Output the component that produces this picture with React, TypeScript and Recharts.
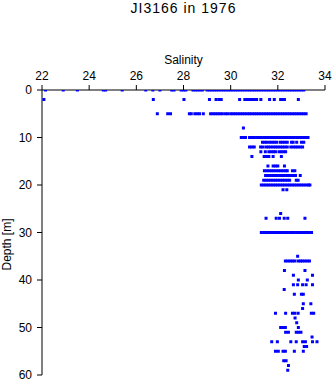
import React from 'react';
import { ScatterChart, Scatter, XAxis, YAxis, Label } from 'recharts';

const TITLE = 'JI3166 in 1976';
const X_LABEL = 'Salinity';
const Y_LABEL = 'Depth [m]';
const X_TICKS = [22, 24, 26, 28, 30, 32, 34];
const Y_TICKS = [0, 10, 20, 30, 40, 50, 60];

// salinity readings per depth level [m]
const sal0 = [22.15, 22.9, 23.5, 24.6, 24.7, 25.4, 26.4, 26.7, 27.0, 27.5, 27.6, 27.9, 28.0, 28.1, 28.4, 28.5, 28.6, 28.7, 28.8, 29.0, 29.1, 29.2, 29.3, 29.4, 29.5, 29.6, 29.7, 29.8, 29.9, 30.0, 30.1, 30.2, 30.3, 30.4, 30.5, 30.6, 30.7, 30.8, 30.9, 31.0, 31.1, 31.2, 31.3, 31.4, 31.5, 31.6, 31.7, 31.8, 31.9, 32.0, 32.1, 32.2, 32.3, 32.4, 32.5, 32.6, 32.7, 32.8, 32.9, 33.0, 33.1];
const sal2 = [22.08, 26.72, 28.02, 29.1, 29.38, 29.5, 29.6, 30.38, 30.6, 30.7, 30.8, 30.9, 31.0, 31.1, 31.28, 31.65, 31.85, 32.12, 32.2, 32.28, 32.87];
const sal5 = [26.89, 27.33, 27.45, 28.25, 28.33, 28.48, 28.58, 28.68, 28.84, 29.15, 29.25, 29.35, 29.45, 29.55, 29.65, 29.78, 29.88, 30.0, 30.1, 30.2, 30.3, 30.4, 30.5, 30.6, 30.7, 30.8, 30.9, 31.0, 31.1, 31.2, 31.3, 31.4, 31.5, 31.6, 31.7, 31.8, 31.9, 32.0, 32.1, 32.2, 32.3, 32.4, 32.5, 32.6, 32.7, 32.8, 32.9, 33.0, 33.1, 33.2];
const sal8 = [30.54];
const sal10 = [30.45, 30.55, 30.63, 30.8, 30.9, 31.0, 31.1, 31.2, 31.3, 31.4, 31.5, 31.6, 31.7, 31.8, 31.9, 32.0, 32.1, 32.2, 32.3, 32.4, 32.5, 32.6, 32.7, 32.8, 32.9, 33.0, 33.1, 33.2, 33.28];
const sal11 = [31.35, 31.45, 31.53, 31.65, 31.75, 31.85, 31.95, 32.1, 32.2, 32.3, 32.4, 32.58, 32.65, 32.8, 33.0, 33.1];
const sal12 = [30.8, 30.9, 31.0, 31.27, 31.37, 31.5, 31.6, 31.7, 31.8, 31.9, 32.0, 32.1, 32.2, 32.3, 32.4, 32.55, 32.65, 32.75, 32.85, 32.95, 33.05];
const sal13 = [31.28, 31.47, 31.62, 31.72, 31.82, 31.9, 32.05, 32.15, 32.25, 32.33];
const sal14 = [30.9, 31.42, 31.52, 31.62, 31.8, 32.15];
const sal16 = [31.58, 31.8, 31.9, 32.0, 32.28];
const sal17 = [31.43, 31.53, 31.63, 31.73, 31.83, 31.93, 32.03, 32.13, 32.23, 32.33, 32.4, 32.62, 32.72];
const sal18 = [31.48, 31.58, 31.68, 31.78, 31.88, 31.98, 32.08, 32.18, 32.28, 32.38, 32.48, 32.58, 32.68, 32.75, 32.95];
const sal19 = [31.4, 31.5, 31.6, 31.7, 31.8, 31.9, 32.0, 32.1, 32.2, 32.3, 32.4, 32.5, 32.78, 32.86];
const sal20 = [31.3, 31.4, 31.5, 31.6, 31.7, 31.8, 31.9, 32.0, 32.1, 32.2, 32.3, 32.4, 32.5, 32.6, 32.7, 32.8, 32.9, 33.0, 33.1, 33.2, 33.3, 33.36];
const sal21 = [32.22, 32.38];
const sal26 = [32.12];
const sal27 = [31.5, 31.93, 32.07, 32.27, 32.42, 33.15];
const sal30 = [31.3, 31.4, 31.5, 31.6, 31.7, 31.8, 31.9, 32.0, 32.1, 32.2, 32.3, 32.4, 32.5, 32.6, 32.7, 32.8, 32.9, 33.0, 33.1, 33.2, 33.3, 33.43];
const sal35 = [32.84];
const sal36 = [32.32, 32.42, 32.52, 32.62, 32.72, 32.86, 32.96, 33.04, 33.14, 33.24, 33.34];
const sal38 = [32.28, 33.15];
const sal39 = [32.66, 33.47];
const sal40 = [32.87, 33.25];
const sal41 = [32.66, 32.84, 33.05, 33.2, 33.47];
const sal42 = [32.27];
const sal43 = [32.7, 33.0, 33.08];
const sal45 = [33.08, 33.4];
const sal46 = [33.05];
const sal47 = [31.9, 32.33, 32.62, 32.72, 32.86, 33.42, 33.52];
const sal48 = [32.73];
const sal49 = [32.8];
const sal50 = [32.12, 32.22, 32.32, 32.87];
const sal51 = [32.33, 32.45, 32.78, 32.88, 32.98];
const sal52 = [33.45];
const sal53 = [31.74, 31.98, 32.55, 32.78, 33.05, 33.17, 33.47, 33.66];
const sal54 = [33.12, 33.22];
const sal55 = [31.9, 32.02, 32.22, 32.32, 32.7, 33.08];
const sal57 = [32.25, 32.35];
const sal58 = [32.45];
const sal59 = [32.42];

const DEPTHS = [0, 2, 5, 8, 10, 11, 12, 13, 14, 16, 17, 18, 19, 20, 21, 26, 27, 30, 35, 36, 38, 39, 40, 41, 42, 43, 45, 46, 47, 48, 49, 50, 51, 52, 53, 54, 55, 57, 58, 59];
const SALS = [sal0, sal2, sal5, sal8, sal10, sal11, sal12, sal13, sal14, sal16, sal17, sal18, sal19, sal20, sal21, sal26, sal27, sal30, sal35, sal36, sal38, sal39, sal40, sal41, sal42, sal43, sal45, sal46, sal47, sal48, sal49, sal50, sal51, sal52, sal53, sal54, sal55, sal57, sal58, sal59];

const points: { sal: number; depth: number }[] = [];
DEPTHS.forEach((d, i) => {
  SALS[i].forEach((s) => points.push({ sal: s, depth: d }));
});

const FONT = '"Liberation Sans", Arial, Helvetica, sans-serif';

const Marker = (props: any) => {
  const { cx, cy } = props;
  if (cx == null || cy == null) return null;
  return <rect x={cx - 1.5} y={cy - 1.5} width={3} height={3} fill="#0000ff" />;
};

const TopLabels = (props: any) => {
  const vb = props.viewBox || {};
  const cx = vb.x + vb.width / 2;
  return (
    <g>
      <text x={cx} y={13} textAnchor="middle" fontSize={14} letterSpacing={1} fontFamily={FONT} fill="#000">
        {TITLE}
      </text>
      <text x={cx} y={64} textAnchor="middle" fontSize={12} fontFamily={FONT} fill="#000">
        {X_LABEL}
      </text>
    </g>
  );
};

const LeftLabel = (props: any) => {
  const vb = props.viewBox || {};
  const x = 11;
  const y = vb.y + vb.height / 2 + 12;
  return (
    <text x={x} y={y} transform={`rotate(-90, ${x}, ${y})`} textAnchor="middle" fontSize={12} fontFamily={FONT} fill="#000">
      {Y_LABEL}
    </text>
  );
};

export default function App() {
  return (
    <div style={{ position: 'absolute', left: 0, top: 0, background: '#fff' }}>
      <ScatterChart width={335} height={384} margin={{ top: 40, right: 10, bottom: 9, left: 0 }}>
        <XAxis
          type="number"
          dataKey="sal"
          orientation="top"
          domain={[22, 34]}
          ticks={X_TICKS}
          allowDataOverflow
          height={50}
          tickSize={5}
          tickMargin={5}
          interval={0}
          axisLine={{ stroke: '#000' }}
          tickLine={{ stroke: '#000' }}
          tick={{ fill: '#000', fontSize: 12, fontFamily: FONT }}
        >
          <Label content={TopLabels} />
        </XAxis>
        <YAxis
          type="number"
          dataKey="depth"
          domain={[0, 60]}
          ticks={Y_TICKS}
          reversed
          allowDataOverflow
          width={42}
          tickSize={5}
          tickMargin={5}
          interval={0}
          axisLine={{ stroke: '#000' }}
          tickLine={{ stroke: '#000' }}
          tick={{ fill: '#000', fontSize: 12, fontFamily: FONT }}
        >
          <Label content={LeftLabel} />
        </YAxis>
        <Scatter data={points} shape={Marker} isAnimationActive={false} />
      </ScatterChart>
    </div>
  );
}
